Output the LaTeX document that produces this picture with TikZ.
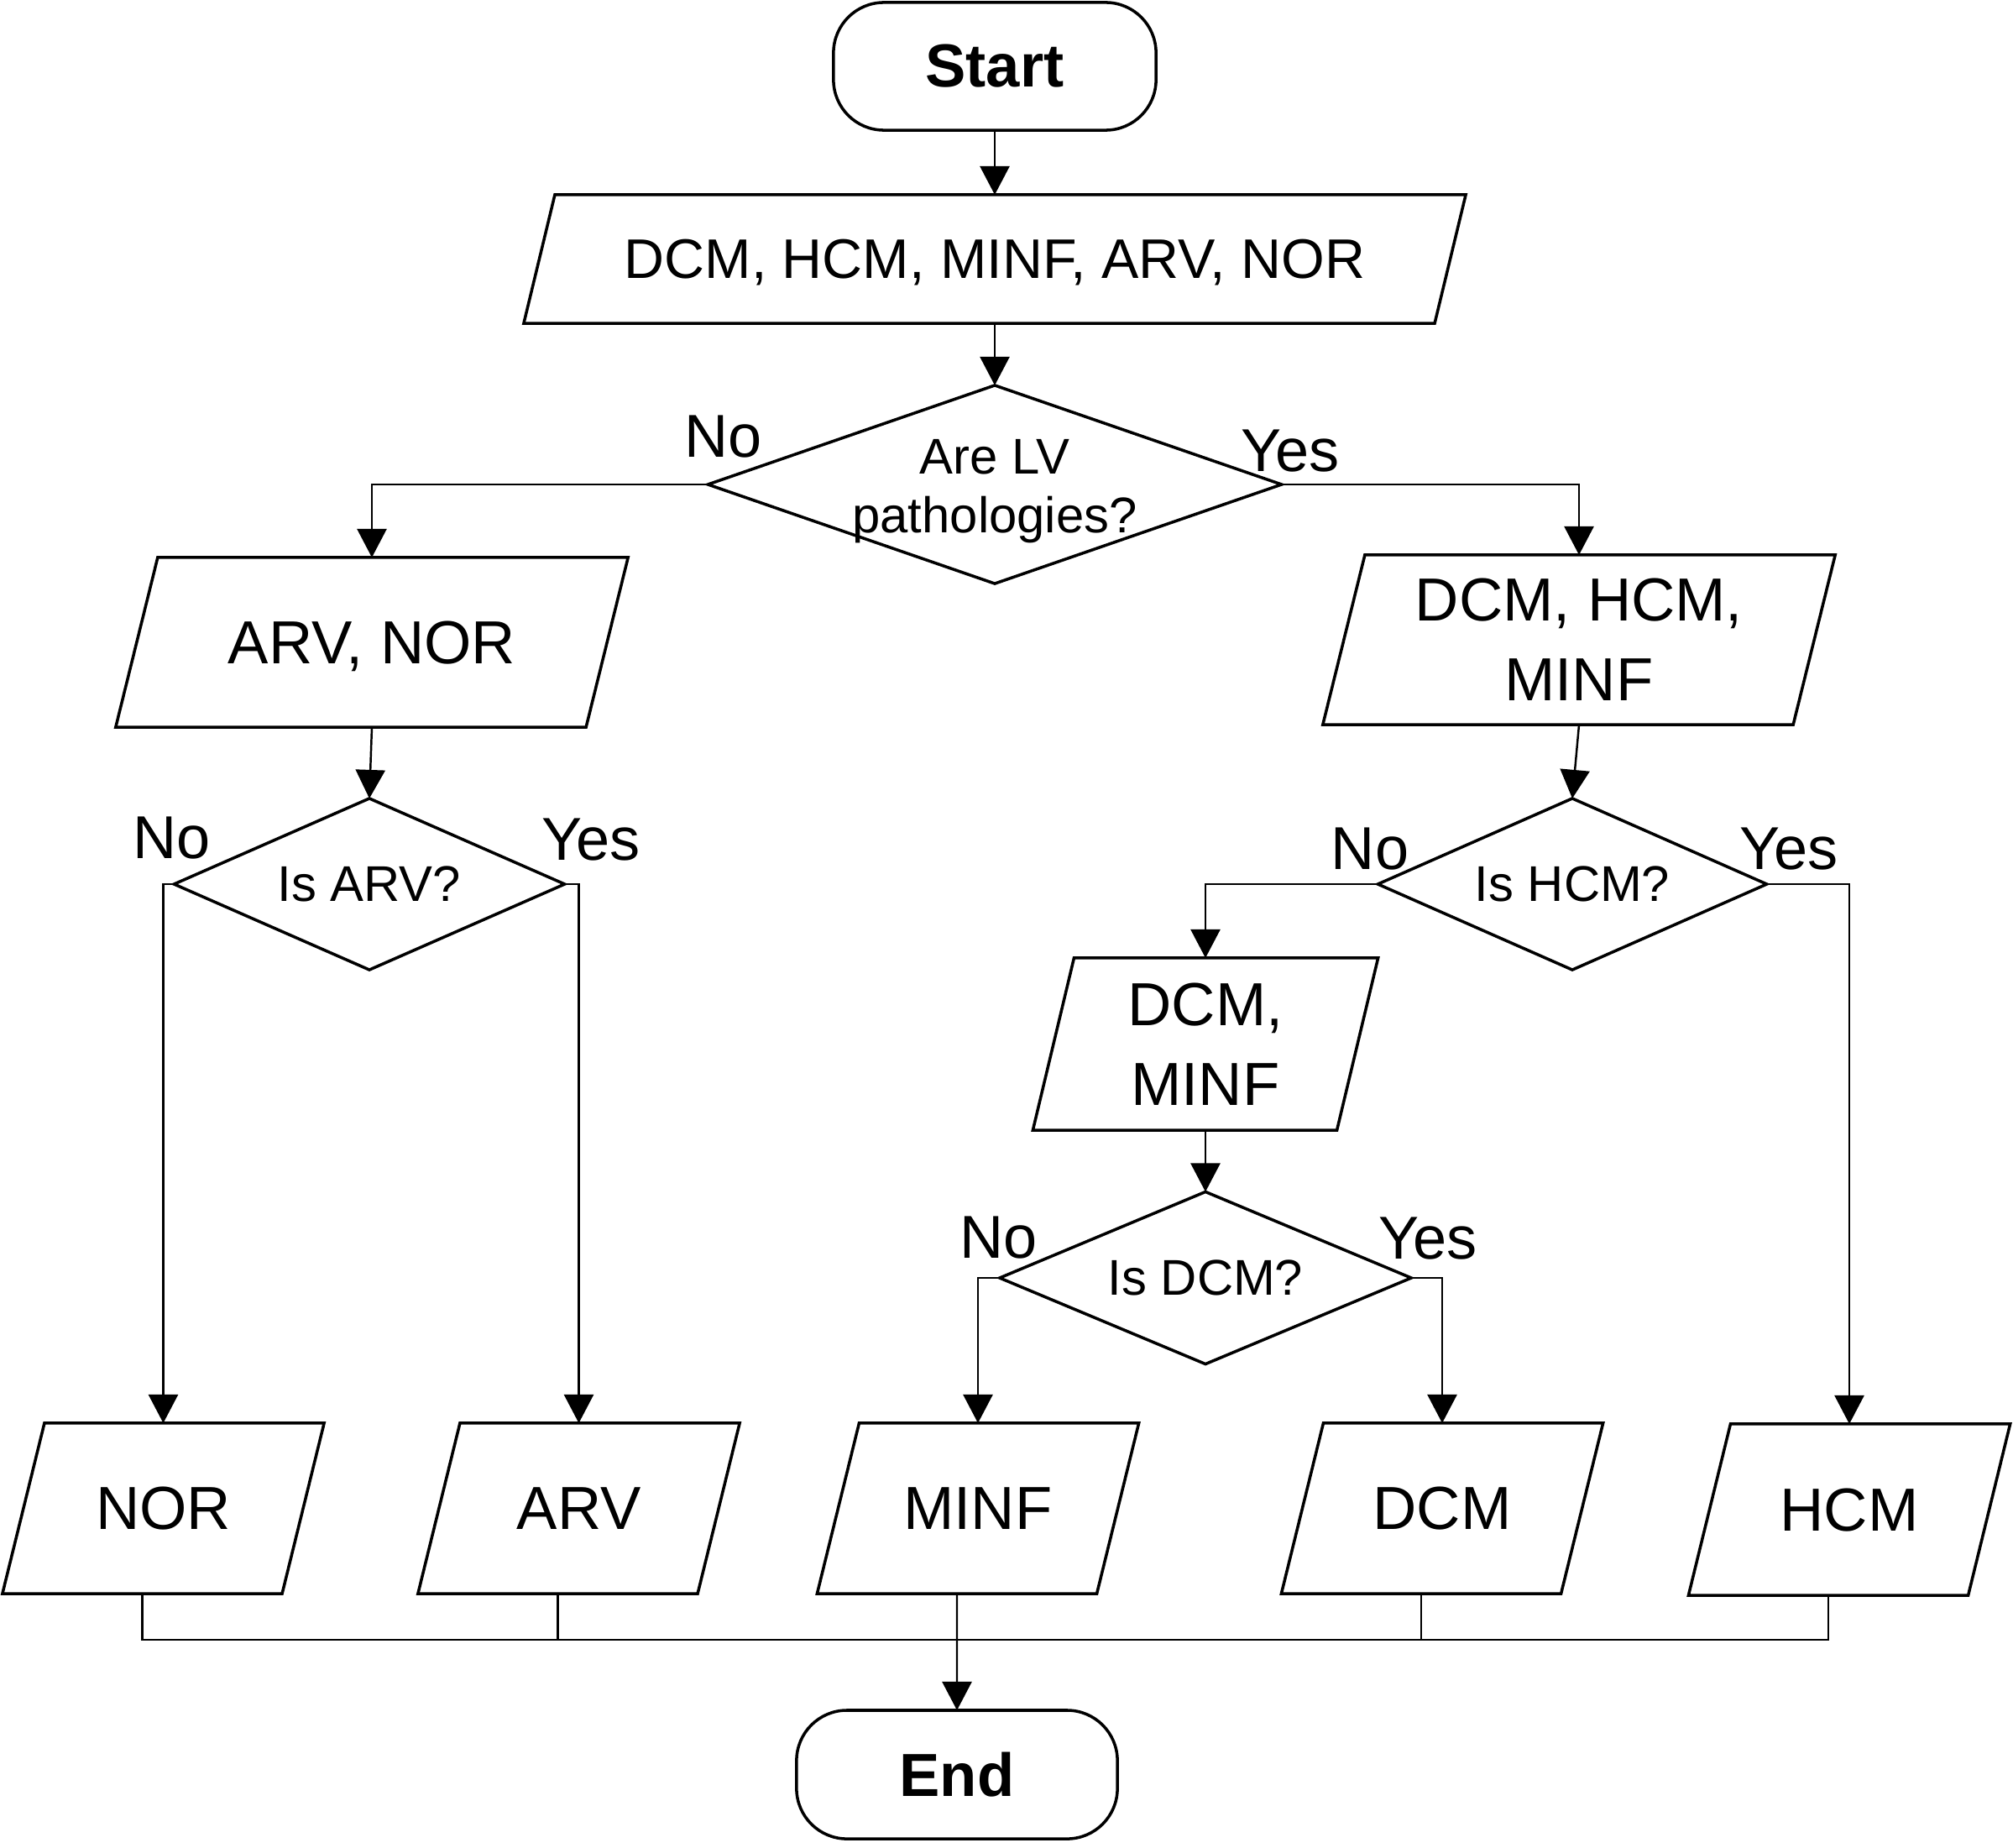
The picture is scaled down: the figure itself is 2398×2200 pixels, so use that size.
\documentclass[tikz,border=0pt]{standalone}
\usepackage{fontspec}
\setmainfont{Liberation Sans}
\usetikzlibrary{arrows.meta,shapes.geometric,calc}
\newcommand{\pgdraw}[2]{\draw[shp] ([xshift=#2]#1.north west) -- ([xshift=#2]#1.north east) -- ([xshift=-#2]#1.south east) -- ([xshift=-#2]#1.south west) -- cycle;}
\tikzset{
  shp/.style={draw, line width=1pt},
  conn/.style={line width=0.7pt},
  arr/.style={conn, -{Triangle[length=0.34cm,width=0.35cm]}},
  term/.style={shp, rectangle, rounded corners=0.6cm, inner sep=0pt, outer sep=0pt, font=\fontsize{20.6}{24}\selectfont\bfseries},
  pbox/.style={rectangle, inner sep=0pt, outer sep=0pt, align=center, text depth=0pt, font=\fontsize{20.6}{27}\selectfont},
  dia/.style={shp, diamond, inner sep=0pt, outer sep=0pt},
  dtxt/.style={align=center, inner sep=0pt, font=\fontsize{17}{20}\selectfont},
  lbl/.style={anchor=base, inner sep=0pt, font=\fontsize{20.5}{24}\selectfont},
}
\begin{document}
\begin{tikzpicture}[x=0.01cm, y=-0.01cm]
\useasboundingbox (0,0) rectangle (2398,2200);

% start
\node[term, minimum width=3.84cm, minimum height=1.52cm] (start) at (1185,79) {Start};
\node[pbox, minimum width=10.845cm, minimum height=1.53cm, font=\fontsize{18.9}{22}\selectfont] (all) at (1185,308.5) {DCM, HCM, MINF, ARV, NOR};
\pgdraw{all}{0.185cm}

% decision 1
\node[dia, minimum width=6.83cm, minimum height=2.36cm] (d1) at (1185,577) {};
\node[dtxt] (d1t) at (1185,585) {Are LV\\pathologies?};
\node[lbl] (d1no) at (862,544) {No};
\node[lbl] (d1yes) at (1537,561) {Yes};

% second level boxes
\node[pbox, minimum width=5.6cm, minimum height=2.02cm] (an) at (443,765) {ARV, NOR};
\pgdraw{an}{0.25cm}
\node[pbox, minimum width=5.6cm, minimum height=2.02cm] (dhm) at (1881,762) {DCM, HCM,\\MINF};
\pgdraw{dhm}{0.25cm}

% decision 2
\node[dia, minimum width=4.65cm, minimum height=2.04cm] (d2) at (440,1053) {};
\node[dtxt] (d2t) at (d2) {Is ARV?};
\node[lbl] (d2no) at (205,1022) {No};
\node[lbl] (d2yes) at (704,1024) {Yes};

% decision 3
\node[dia, minimum width=4.63cm, minimum height=2.04cm] (d3) at (1873,1053) {};
\node[dtxt] (d3t) at (d3) {Is HCM?};
\node[lbl] (d3no) at (1632,1035) {No};
\node[lbl] (d3yes) at (2131,1035) {Yes};

% DCM, MINF
\node[pbox, minimum width=3.62cm, minimum height=2.05cm] (dm) at (1436,1243.5) {DCM,\\MINF};
\pgdraw{dm}{0.245cm}

% decision 4
\node[dia, minimum width=4.9cm, minimum height=2.05cm] (d4) at (1436,1522) {};
\node[dtxt] (d4t) at (d4) {Is DCM?};
\node[lbl] (d4no) at (1190,1498) {No};
\node[lbl] (d4yes) at (1701,1499) {Yes};

% leaves
\node[pbox, minimum width=3.33cm, minimum height=2.03cm] (nor) at (194.5,1796.5) {NOR};
\pgdraw{nor}{0.25cm}
\node[pbox, minimum width=3.33cm, minimum height=2.03cm] (arv) at (689.5,1796.5) {ARV};
\pgdraw{arv}{0.25cm}
\node[pbox, minimum width=3.33cm, minimum height=2.03cm] (minf) at (1165,1796.5) {MINF};
\pgdraw{minf}{0.25cm}
\node[pbox, minimum width=3.33cm, minimum height=2.03cm] (dcm) at (1718,1796.5) {DCM};
\pgdraw{dcm}{0.25cm}
\node[pbox, minimum width=3.33cm, minimum height=2.04cm] (hcm) at (2203,1798) {HCM};
\pgdraw{hcm}{0.25cm}

% end
\node[term, minimum width=3.82cm, minimum height=1.53cm] (end) at (1140,2113.5) {End};

% connectors
\draw[arr] (start.south) -- (all.north);
\draw[arr] (all.south) -- (d1.north);
\draw[arr] (d1.west) -| (an.north);
\draw[arr] (d1.east) -| (dhm.north);
\draw[arr] (an.south) -- (d2.north);
\draw[arr] (dhm.south) -- (d3.north);
\draw[arr] (d2.west) -| (nor.north);
\draw[arr] (d2.east) -| (arv.north);
\draw[arr] (d3.west) -| (dm.north);
\draw[arr] (d3.east) -| (hcm.north);
\draw[arr] (dm.south) -- (d4.north);
\draw[arr] (d4.west) -| (minf.north);
\draw[arr] (d4.east) -| (dcm.north);

% bus to end
\coordinate (bus) at (0,1953);
\coordinate (norb) at ([xshift=-0.25cm]nor.south);
\coordinate (arvb) at ([xshift=-0.25cm]arv.south);
\coordinate (minfb) at ([xshift=-0.25cm]minf.south);
\coordinate (dcmb) at ([xshift=-0.25cm]dcm.south);
\coordinate (hcmb) at ([xshift=-0.25cm]hcm.south);
\draw[conn] (norb) -- (norb |- bus) -- (hcmb |- bus) -- (hcmb);
\draw[conn] (arvb) -- (arvb |- bus);
\draw[conn] (dcmb) -- (dcmb |- bus);
\draw[arr] (minfb) -- (end.north);
\end{tikzpicture}
\end{document}
